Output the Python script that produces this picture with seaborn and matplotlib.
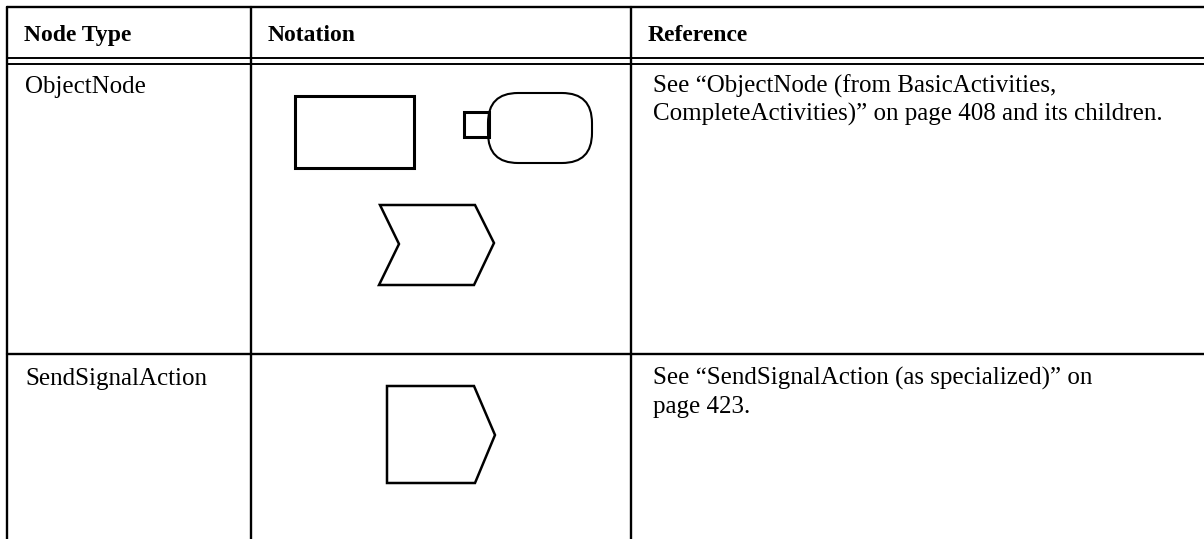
import matplotlib
matplotlib.use("Agg")
import matplotlib.pyplot as plt
from matplotlib.patches import Polygon, Rectangle, FancyBboxPatch
import seaborn as sns

# ----------------------------------------------------------------------------
# Table content
# ----------------------------------------------------------------------------
headers = ["Node Type", "Notation", "Reference"]
node_types = ["ObjectNode", "SendSignalAction"]
references = [
    ["See \u201cObjectNode (from BasicActivities,",
     "CompleteActivities)\u201d on page 408 and its children."],
    ["See \u201cSendSignalAction (as specialized)\u201d on",
     "page 423."],
]

# table grid (pixel coords, y downwards)
col_edges = [7, 251, 631]
row_top = 7
header_lines = [58, 64]
row_lines = [354]
header_base = 41
row_base = [93, 385]
line_gap = 28

# notation shapes
object_rect = (295, 96, 119, 72)            # x, y, w, h
pin_square = (464, 112, 25, 25)
pin_node = (488, 93, 104, 70, 30)           # x, y, w, h, radius
accept_event = [(380, 205), (475, 205), (494, 243), (474, 285), (379, 285), (399, 244)]
send_signal = [(387, 386), (474, 386), (495, 435), (475, 483), (387, 483)]

# ----------------------------------------------------------------------------
# Draw
# ----------------------------------------------------------------------------
sns.set_theme(style="white")
plt.rcParams['font.family'] = ['Liberation Serif', 'DejaVu Serif']

W, H = 1204, 539
fig = plt.figure(figsize=(W / 100, H / 100), dpi=100)
ax = fig.add_axes([0, 0, 1, 1])
ax.set_xlim(0, W)
ax.set_ylim(H, 0)
ax.axis('off')

lw = 1.7
# horizontal rules
ax.plot([col_edges[0], W], [row_top, row_top], color='black', lw=lw)
for y in header_lines:
    ax.plot([col_edges[0], W], [y, y], color='black', lw=1.4)
for y in row_lines:
    ax.plot([col_edges[0], W], [y, y], color='black', lw=lw)
# vertical rules
for x in col_edges:
    ax.plot([x, x], [row_top, H], color='black', lw=lw)

# header text
for x, label in zip(col_edges, headers):
    ax.text(x + 17, header_base, label, fontsize=17, fontweight='bold',
            va='baseline', ha='left', color='black')

# body text
for i, name in enumerate(node_types):
    ax.text(col_edges[0] + 18, row_base[i], name, fontsize=18,
            va='baseline', ha='left', color='black')
    for k, line in enumerate(references[i]):
        ax.text(col_edges[2] + 22, row_base[i] + k * line_gap, line, fontsize=18,
                va='baseline', ha='left', color='black')

# shapes
x, y, w, h = object_rect
ax.add_patch(Rectangle((x, y), w, h, fill=False, ec='black', lw=2.2))
x, y, w, h = pin_square
ax.add_patch(Rectangle((x, y), w, h, fill=False, ec='black', lw=2.2))
x, y, w, h, r = pin_node
ax.add_patch(FancyBboxPatch((x, y), w, h, boxstyle=f"round,pad=0,rounding_size={r}",
                            fill=False, ec='black', lw=1.5))
ax.add_patch(Polygon(accept_event, closed=True, fill=False, ec='black', lw=1.8))
ax.add_patch(Polygon(send_signal, closed=True, fill=False, ec='black', lw=1.8))

plt.savefig('out.png', dpi=100)
